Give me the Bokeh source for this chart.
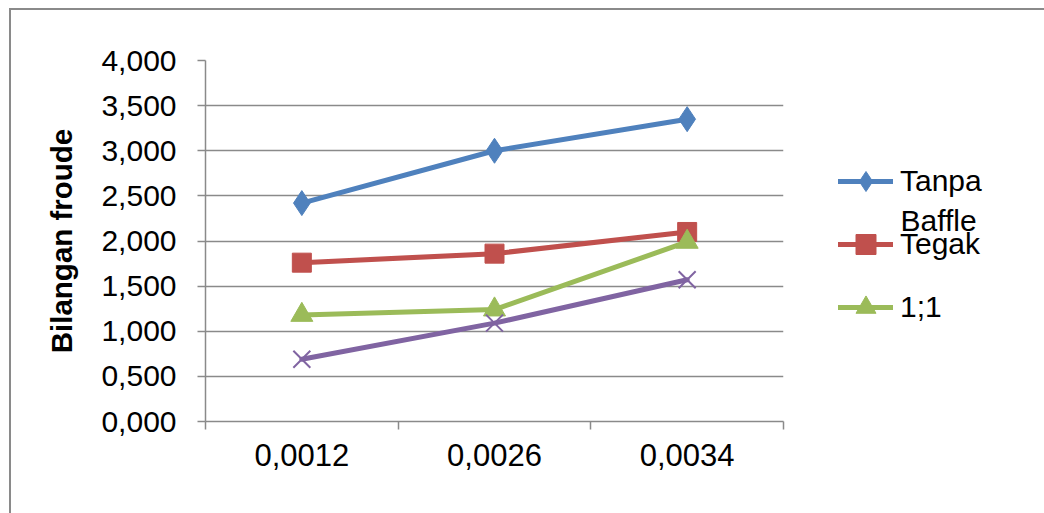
from bokeh.plotting import figure
from bokeh.models import FixedTicker, Legend, LegendItem, Range1d, Label
from bokeh.layouts import row
from bokeh.embed import file_html
from bokeh.resources import INLINE

# ---- data ----
categories = ["0,0012", "0,0026", "0,0034"]
tanpa_baffle = [2.42, 3.00, 3.35]
tegak = [1.76, 1.86, 2.10]
rasio_1_1 = [1.18, 1.24, 1.99]
seri_4 = [0.69, 1.09, 1.57]
y_ticks = [0.0, 0.5, 1.0, 1.5, 2.0, 2.5, 3.0, 3.5, 4.0]
y_tick_labels = ["0,000", "0,500", "1,000", "1,500", "2,000",
                 "2,500", "3,000", "3,500", "4,000"]
y_title = "Bilangan froude"
legend_names = ["Tanpa", "Tegak", "1;1"]
legend_wrap = "Baffle"   # wrapped second line of "Tanpa Baffle"

FONT = "Liberation Sans"
GRAY = "#8a8a8a"
blue, red, green, purple = "#4F81BD", "#C0504D", "#9BBB59", "#8064A2"

xs = [i + 0.5 for i in range(len(categories))]
bounds = [float(i) for i in range(len(categories) + 1)]

p = figure(width=775, height=503, x_range=Range1d(0, len(categories)),
           y_range=Range1d(y_ticks[0], y_ticks[-1]),
           output_backend="svg", toolbar_location=None,
           min_border_left=194, min_border_right=3,
           min_border_top=50, min_border_bottom=92)
p.outline_line_color = None
p.background_fill_color = "white"
p.border_fill_color = "white"

# grid
p.xgrid.visible = False
p.ygrid.ticker = FixedTicker(ticks=y_ticks)
p.ygrid.grid_line_color = GRAY
p.ygrid.grid_line_width = 1.5

# x axis
xa = p.xaxis[0]
xa.ticker = FixedTicker(ticks=xs, minor_ticks=bounds)
xa.major_label_overrides = {x: c for x, c in zip(xs, categories)}
xa.major_tick_in = 0
xa.major_tick_out = 0
xa.minor_tick_in = 0
xa.minor_tick_out = 8
xa.minor_tick_line_color = GRAY
xa.minor_tick_line_width = 1.5
xa.axis_line_color = GRAY
xa.axis_line_width = 1.5
xa.major_label_text_font = FONT
xa.major_label_text_font_size = "31px"
xa.major_label_text_color = "black"
xa.major_label_standoff = 14

# y axis
ya = p.yaxis[0]
ya.ticker = FixedTicker(ticks=y_ticks)
ya.major_label_overrides = {t: l for t, l in zip(y_ticks, y_tick_labels)}
ya.major_tick_in = 0
ya.major_tick_out = 8
ya.major_tick_line_color = GRAY
ya.major_tick_line_width = 1.5
ya.minor_tick_line_color = None
ya.axis_line_color = GRAY
ya.axis_line_width = 1.5
ya.major_label_text_font = FONT
ya.major_label_text_font_size = "30px"
ya.major_label_text_color = "black"
ya.major_label_standoff = 21
ya.axis_label = y_title
ya.axis_label_text_font = FONT
ya.axis_label_text_font_style = "bold"
ya.axis_label_text_font_size = "29.5px"
ya.axis_label_text_color = "black"
ya.axis_label_standoff = 20

# series
line_kw = dict(line_width=5, line_cap="round", line_join="round")
series = [
    (tanpa_baffle, blue, "diamond", 25),
    (tegak, red, "square", 19),
    (rasio_1_1, green, "triangle", 22),
]
for vals, c, mk, sz in series:
    p.line(xs, vals, line_color=c, **line_kw)
    p.scatter(xs, vals, marker=mk, size=sz, color=c)
p.line(xs, seri_4, line_color=purple, **line_kw)
p.scatter(xs, seri_4, marker="x", size=24, line_color=purple, line_width=2)

# legend panel: a second figure beside the plot area; it holds the same
# series, kept out of its (empty) view, so that its legend can sit outside
# the plot frame like the original.
q = figure(width=258, height=503, x_range=Range1d(-20, -19), y_range=Range1d(-20, -19),
           x_axis_type=None, y_axis_type=None,
           output_backend="svg", toolbar_location=None,
           min_border_left=0, min_border_right=0,
           min_border_top=0, min_border_bottom=0)
q.outline_line_color = None
q.grid.visible = False
q.background_fill_color = "white"
q.border_fill_color = "white"

items = []
for name, (vals, c, mk, sz) in zip(legend_names, series):
    lr = q.line(xs, vals, line_color=c, **line_kw)
    mr = q.scatter(xs, vals, marker=mk, size=sz, color=c)
    items.append(LegendItem(label=name, renderers=[lr, mr]))

legend = Legend(items=items, location=(52, 89))
legend.margin = 0
legend.padding = 0
legend.border_line_color = None
legend.background_fill_alpha = 0
legend.glyph_width = 55
legend.glyph_height = 50
legend.label_standoff = 7
legend.label_text_font = FONT
legend.label_text_font_size = "30px"
legend.label_text_color = "black"
legend.label_height = 30
legend.spacing = 13
q.add_layout(legend, "center")

q.add_layout(Label(x=114, y=201, x_units="screen", y_units="screen",
                   text=legend_wrap, text_font=FONT, text_font_size="30px",
                   text_color="black", text_baseline="middle", text_align="left"))

layout = row(p, q)
layout.styles = {"margin-left": "9px", "margin-top": "8px",
                 "border-top": "2px solid " + GRAY, "border-left": "2px solid " + GRAY}

open("out.html", "w").write(file_html(layout, INLINE))
